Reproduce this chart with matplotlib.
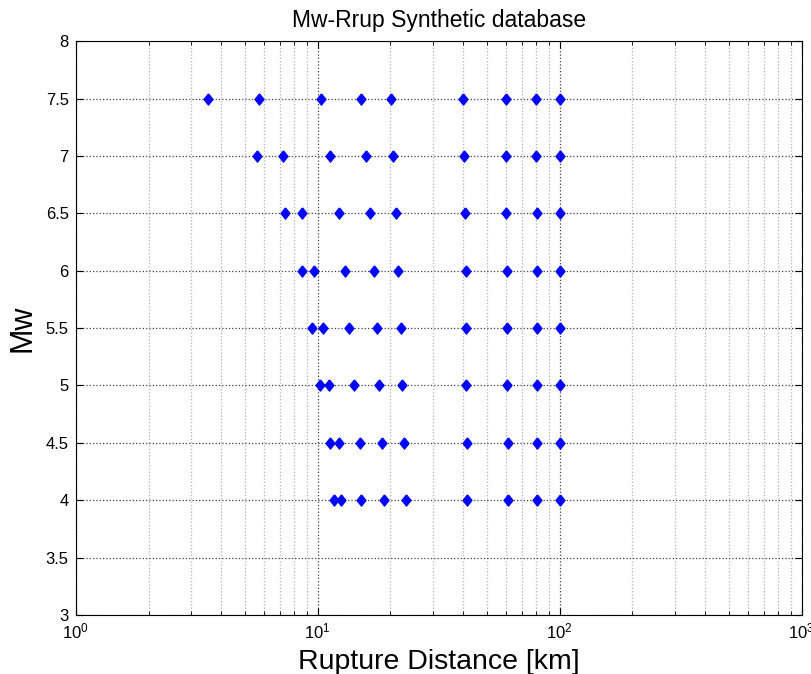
import matplotlib
matplotlib.use("Agg")
import matplotlib.pyplot as plt
from matplotlib.ticker import LogLocator, NullFormatter

plt.rcParams['font.family'] = ['Liberation Sans', 'DejaVu Sans']

# magnitude levels of the synthetic database
mw_levels = [7.5, 7.0, 6.5, 6.0, 5.5, 5.0, 4.5, 4.0]

# rupture distances [km] for each magnitude level
rrup_75 = [3.51, 5.75, 10.3, 15.1, 20.1, 40.0, 59.8, 80.0, 100.0]
rrup_70 = [5.64, 7.22, 11.2, 15.8, 20.5, 40.1, 60.3, 80.0, 100.0]
rrup_65 = [7.32, 8.59, 12.2, 16.4, 21.0, 40.5, 60.3, 80.3, 100.6]
rrup_60 = [8.59, 9.66, 13.0, 17.1, 21.5, 41.0, 60.7, 80.5, 100.6]
rrup_55 = [9.44, 10.5, 13.5, 17.6, 22.0, 41.0, 60.7, 80.5, 100.6]
rrup_50 = [10.2, 11.1, 14.1, 17.9, 22.4, 41.0, 60.7, 80.5, 100.6]
rrup_45 = [11.3, 12.2, 14.9, 18.5, 22.8, 41.5, 61.0, 80.7, 100.6]
rrup_40 = [11.7, 12.5, 15.1, 18.8, 23.1, 41.5, 61.0, 80.7, 100.6]

rrup_rows = [rrup_75, rrup_70, rrup_65, rrup_60, rrup_55, rrup_50, rrup_45, rrup_40]

x_vals = []
y_vals = []
for mw, row in zip(mw_levels, rrup_rows):
    x_vals += row
    y_vals += [mw] * len(row)

# diamond a bit taller than wide
diamond = [(0, 1), (0.8, 0), (0, -1), (-0.8, 0), (0, 1)]

fig = plt.figure(figsize=(8.12, 6.74), dpi=100)
ax = fig.add_axes([0.0932, 0.0875, 0.894, 0.8515])

ax.semilogx(x_vals, y_vals, linestyle='none', marker=diamond, color='blue',
            markersize=8, zorder=3)

ax.set_xlim(1, 1000)
ax.set_ylim(3, 8)
ax.set_yticks([3, 3.5, 4, 4.5, 5, 5.5, 6, 6.5, 7, 7.5, 8])
ax.set_yticklabels(['3', '3.5', '4', '4.5', '5', '5.5', '6', '6.5', '7', '7.5', '8'])
ax.xaxis.set_major_locator(LogLocator(base=10))
ax.xaxis.set_minor_locator(LogLocator(base=10, subs=range(2, 10)))
ax.xaxis.set_minor_formatter(NullFormatter())

ax.grid(True, which='major', linestyle=':', color='#404040', linewidth=0.9)
ax.grid(True, which='minor', axis='x', linestyle=':', color='#b0b0b0', linewidth=0.9)

ax.tick_params(which='both', direction='in', top=True, right=True,
               labelsize=12, pad=5)
ax.tick_params(which='major', length=5)
ax.tick_params(which='minor', length=3)
for spine in ax.spines.values():
    spine.set_linewidth(0.8)

ax.set_title('Mw-Rrup Synthetic database', fontsize=16.5, pad=10)
ax.set_xlabel('Rupture Distance [km]', fontsize=20.5, labelpad=5)
ax.set_ylabel('Mw', fontsize=22, labelpad=6)

fig.savefig('out.png', dpi=100)
